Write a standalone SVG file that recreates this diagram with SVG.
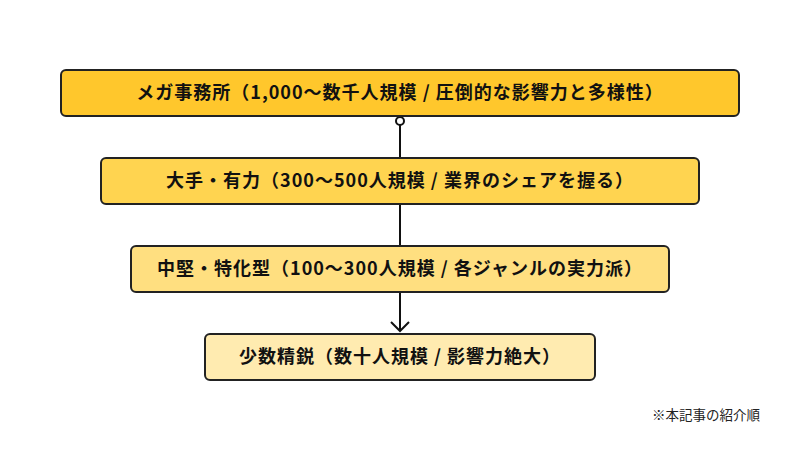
<svg xmlns="http://www.w3.org/2000/svg" width="800" height="450" viewBox="0 0 800 450">
<style>
.b{stroke:#222;stroke-width:2}
.t{font-family:"Noto Sans CJK JP","Noto Sans",sans-serif;font-weight:bold;font-size:18px;letter-spacing:1px;fill:#111;text-anchor:middle}
</style>
<rect width="800" height="450" fill="#fff"/>
<g id="connectors">
<line x1="400" y1="125" x2="400" y2="330" stroke="#111" stroke-width="2"/>
<path d="M391 322 L400 331 L409 322" fill="none" stroke="#111" stroke-width="2"/>
<circle cx="400" cy="121" r="4" fill="#fff" stroke="#111" stroke-width="2"/>
</g>
<g id="n1"><rect class="b" x="61" y="70" width="678" height="46" rx="5" fill="#FFC72C"/><text class="t" x="400" y="99">メガ事務所（1,000〜数千人規模 / 圧倒的な影響力と多様性）</text></g>
<g id="n2"><rect class="b" x="101" y="158" width="598" height="46" rx="5" fill="#FFD450"/><text class="t" x="400" y="187">大手・有力（300〜500人規模 / 業界のシェアを握る）</text></g>
<g id="n3"><rect class="b" x="131" y="246" width="538" height="46" rx="5" fill="#FFDF80"/><text class="t" x="400" y="275">中堅・特化型（100〜300人規模 / 各ジャンルの実力派）</text></g>
<g id="n4"><rect class="b" x="205" y="334" width="390" height="46" rx="5" fill="#FFEBB0"/><text class="t" x="400" y="363">少数精鋭（数十人規模 / 影響力絶大）</text></g>
<text x="760" y="420" font-family="Noto Sans CJK JP,sans-serif" font-size="13.5" fill="#222" text-anchor="end">※本記事の紹介順</text>
</svg>
